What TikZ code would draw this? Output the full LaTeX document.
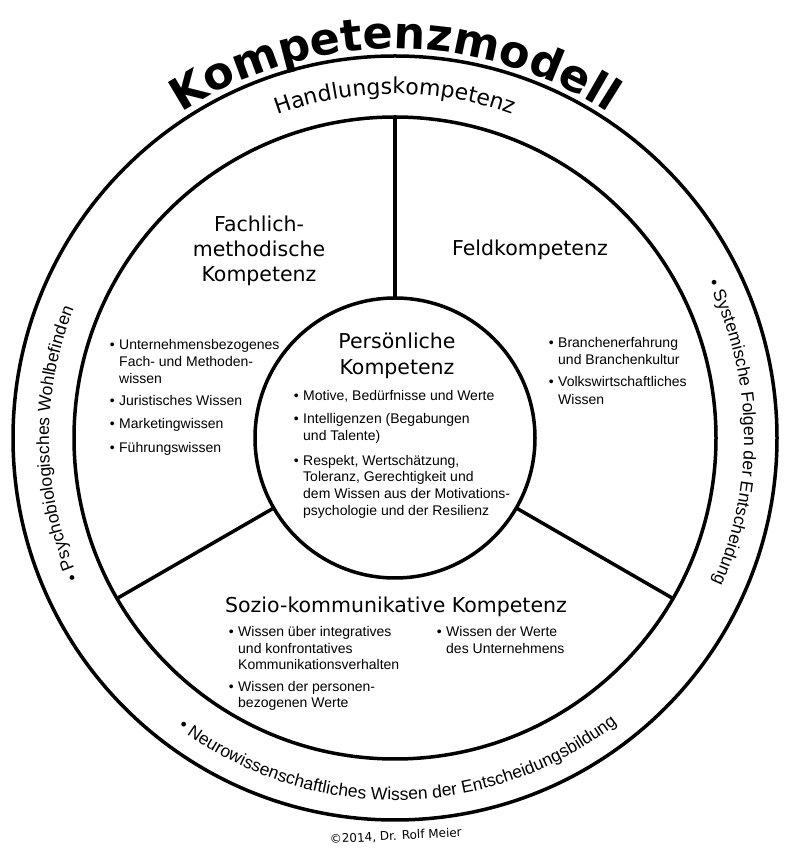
\documentclass[tikz,border=0pt]{standalone}
\usepackage{fontspec}
\setmainfont{Liberation Sans}
\newfontfamily\dv{DejaVu Sans}
\usetikzlibrary{decorations.text}
\newcommand\mybul{\llap{•\hspace{4.5pt}}}
\begin{document}
\begin{tikzpicture}[x=1pt,y=1pt,
  ring/.style={circle, draw, line width=3.5pt, inner sep=0pt, outer sep=0pt},
  divider/.style={line width=3.5pt},
  body/.style={font=\fontsize{14}{16}\selectfont, inner sep=0pt, anchor=base west},
  head/.style={font=\dv\fontsize{20.5}{25}\selectfont, inner sep=0pt, anchor=base}]
\useasboundingbox (0,0) rectangle (789,852);
\coordinate (C) at (395,414);
% circles
\node[ring, minimum size=764pt] (outer) at (C) {};
\node[ring, minimum size=642pt] (middle) at (C) {};
\node[ring, minimum size=280pt] (inner) at (C) {};
% dividers
\draw[divider] (inner.90) -- (middle.90);
\draw[divider] (inner.210) -- (middle.210);
\draw[divider] (inner.330) -- (middle.330);
% curved texts
\path[decorate, decoration={text along path, text align=center,
  text={|\dv\bfseries\fontsize{44.5}{50}\selectfont|Kompetenzmodell}}]
  ([shift={(C)}]150:389) arc[start angle=150, end angle=30, radius=389];
\path[decorate, decoration={text along path, text align=center,
  text={|\dv\fontsize{22}{24}\selectfont|Handlungskompetenz}}]
  ([shift={(C)}]130:344) arc[start angle=130, end angle=50, radius=344];
\path[decorate, decoration={text along path, text align=center,
  text={|\fontsize{17.5}{20}\selectfont|• Psychobiologisches Wohlbefinden}}]
  ([shift={(C)}]215:346) arc[start angle=215, end angle=147, radius=346];
\path[decorate, decoration={text along path, text align=center,
  text={|\fontsize{17.5}{20}\selectfont|• Systemische Folgen der Entscheidung}}]
  ([shift={(C)}]41:349) arc[start angle=41, end angle=-39, radius=349];
\path[decorate, decoration={text along path, text align=center,
  text={|\fontsize{17.5}{20}\selectfont|• Neurowissenschaftliches Wissen der Entscheidungsbildung}}]
  ([shift={(C)}]220:362) arc[start angle=220, end angle=321, radius=362];
% headings
\node[head] (fa1) at (259,620) {Fachlich-};
\node[head] (fa2) at (259,595) {methodische};
\node[head] (fa3) at (259,570) {Kompetenz};
\node[head] (fe) at (530,596) {Feldkompetenz};
\node[head] (pe1) at (397,503) {Persönliche};
\node[head] (pe2) at (397,477) {Kompetenz};
\node[head] (so) at (396,239) {Sozio-kommunikative Kompetenz};
% Fachlich bullets
\node[body] (f1) at (119,502) {\mybul Unternehmensbezogenes};
\node[body] (f2) at (119,485) {Fach- und Methoden-};
\node[body] (f3) at (119,468) {wissen};
\node[body] (f4) at (119,446) {\mybul Juristisches Wissen};
\node[body] (f5) at (119,423) {\mybul Marketingwissen};
\node[body] (f6) at (119,399) {\mybul Führungswissen};
% Feld bullets
\node[body] (g1) at (558,504) {\mybul Branchenerfahrung};
\node[body] (g2) at (558,487) {und Branchenkultur};
\node[body] (g3) at (558,465) {\mybul Volkswirtschaftliches};
\node[body] (g4) at (558,447) {Wissen};
% Persoenlich bullets
\node[body] (p1) at (303,451) {\mybul Motive, Bedürfnisse und Werte};
\node[body] (p2) at (303,428) {\mybul Intelligenzen (Begabungen};
\node[body] (p3) at (303,411) {und Talente)};
\node[body] (p4) at (303,386) {\mybul Respekt, Wertschätzung,};
\node[body] (p5) at (303,370) {Toleranz, Gerechtigkeit und};
\node[body] (p6) at (303,353) {dem Wissen aus der Motivations-};
\node[body] (p7) at (303,336) {psychologie und der Resilienz};
% Sozio bullets
\node[body] (s1) at (238,215) {\mybul Wissen über integratives};
\node[body] (s2) at (238,198) {und konfrontatives};
\node[body] (s3) at (238,182) {Kommunikationsverhalten};
\node[body] (s4) at (238,160) {\mybul Wissen der personen-};
\node[body] (s5) at (238,144) {bezogenen Werte};
\node[body] (t1) at (446,215) {\mybul Wissen der Werte};
\node[body] (t2) at (446,198) {des Unternehmens};
% copyright
\node[font=\dv\fontsize{12}{14}\selectfont, rotate=3, anchor=base, inner sep=0pt] (copy) at (396,12) {©2014, Dr. Rolf Meier};
\end{tikzpicture}
\end{document}
